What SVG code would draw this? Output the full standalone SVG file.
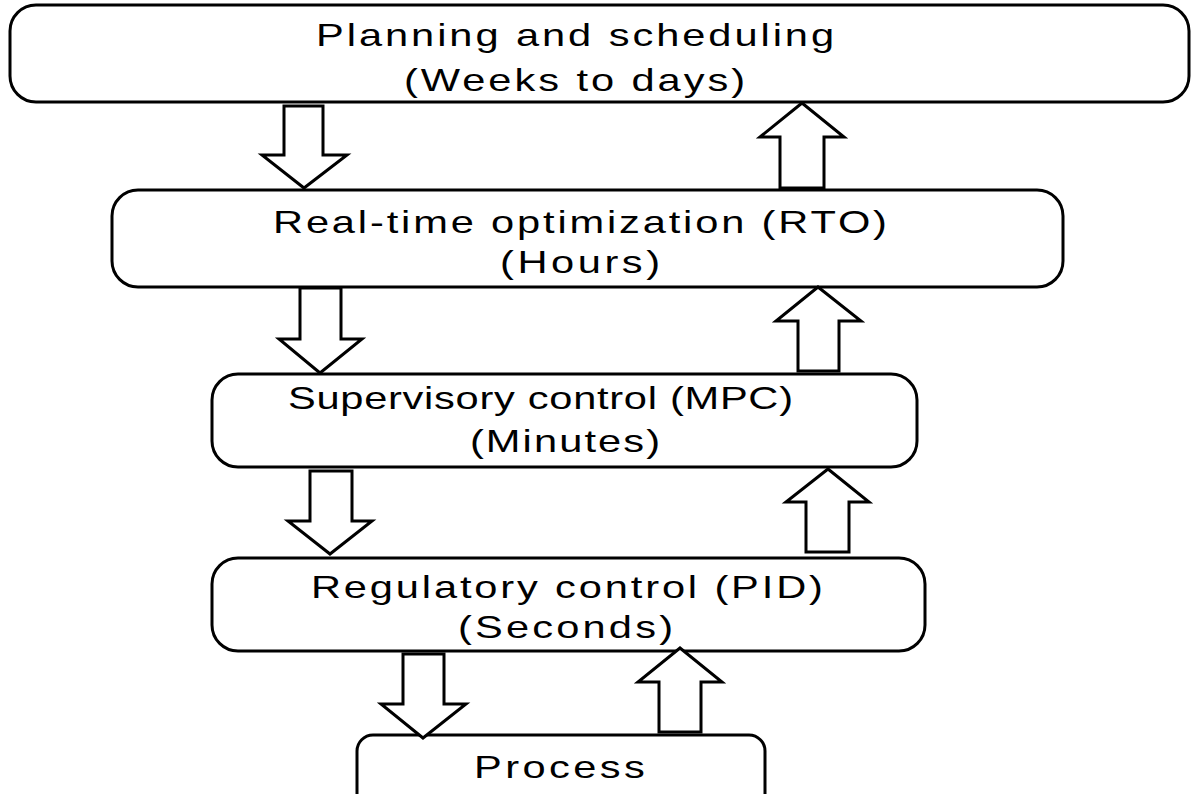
<svg xmlns="http://www.w3.org/2000/svg" width="1192" height="794" viewBox="0 0 1192 794">
<style>
.box{fill:#fff;stroke:#000;stroke-width:3}
.arr{fill:#fff;stroke:#000;stroke-width:3;stroke-linejoin:miter}
.t{font-family:"Liberation Sans",Arial,sans-serif;font-size:32px;fill:#000}
</style>
<rect width="1192" height="794" fill="#fff"/>
<g id="planning">
<rect class="box" x="10" y="5" width="1179" height="97" rx="26"/>
<text class="t" transform="scale(1.3 1)" x="243.1" y="46" textLength="398.5" lengthAdjust="spacing">Planning and scheduling</text>
<text class="t" transform="scale(1.3 1)" x="310.8" y="91" textLength="262.3" lengthAdjust="spacing">(Weeks to days)</text>
</g>
<g id="rto">
<rect class="box" x="112" y="190" width="951" height="97" rx="26"/>
<text class="t" transform="scale(1.3 1)" x="210" y="233" textLength="472.3" lengthAdjust="spacing">Real-time optimization (RTO)</text>
<text class="t" transform="scale(1.3 1)" x="384.6" y="273" textLength="123.1" lengthAdjust="spacing">(Hours)</text>
</g>
<g id="mpc">
<rect class="box" x="212" y="374" width="705" height="93" rx="26"/>
<text class="t" transform="scale(1.3 1)" x="221.5" y="409" textLength="388.5" lengthAdjust="spacing">Supervisory control (MPC)</text>
<text class="t" transform="scale(1.3 1)" x="361.5" y="452" textLength="146.2" lengthAdjust="spacing">(Minutes)</text>
</g>
<g id="pid">
<rect class="box" x="212" y="558" width="713" height="93" rx="26"/>
<text class="t" transform="scale(1.3 1)" x="239.2" y="598" textLength="393.8" lengthAdjust="spacing">Regulatory control (PID)</text>
<text class="t" transform="scale(1.3 1)" x="352.3" y="638" textLength="165.4" lengthAdjust="spacing">(Seconds)</text>
</g>
<g id="process">
<rect class="box" x="357" y="735" width="408" height="80" rx="16"/>
<text class="t" transform="scale(1.3 1)" x="364.6" y="778" textLength="131.5" lengthAdjust="spacing">Process</text>
</g>
<g id="connectors">
<polygon class="arr" points="284,106 323,106 323,155 347,155 304,188 262,155 284,155"/>
<polygon class="arr" points="780,188 824,188 824,137 844,137 802,103 760,137 780,137"/>
<polygon class="arr" points="300,288 341,288 341,339 362,339 320,373 279,339 300,339"/>
<polygon class="arr" points="798,371 839,371 839,321 861,321 818,287 776,321 798,321"/>
<polygon class="arr" points="310,471 352,471 352,521 372,521 330,554 288,521 310,521"/>
<polygon class="arr" points="806,552 849,552 849,502 869,502 828,469 786,502 806,502"/>
<polygon class="arr" points="403,654 444,654 444,704 466,704 423,738 381,704 403,704"/>
<polygon class="arr" points="659,732 701,732 701,682 722,682 680,648 638,682 659,682"/>
</g>
</svg>
